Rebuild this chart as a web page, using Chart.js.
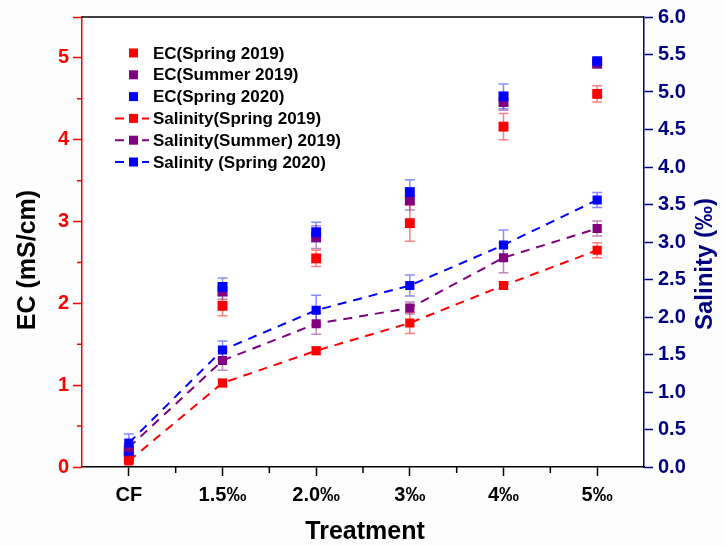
<!DOCTYPE html>
<html>
<head>
<meta charset="utf-8">
<script src="https://cdn.jsdelivr.net/npm/chart.js@4.4.1/dist/chart.umd.min.js"></script>
<style>
html, body { margin: 0; padding: 0; background: #fdfdfd; }
#wrap { width: 724px; height: 546px; }
</style>
</head>
<body>
<div id="wrap"><canvas id="ecChart" width="724" height="546"></canvas></div>
<script>
// values
const treatments = ['CF', '1.5‰', '2.0‰', '3‰', '4‰', '5‰'];

const ecSpring2019 = [0.10, 1.97, 2.55, 2.98, 4.16, 4.56];
const ecSpring2019Err = [0.03, 0.12, 0.10, 0.22, 0.16, 0.10];
const ecSummer2019 = [0.18, 2.15, 2.81, 3.26, 4.46, 4.93];
const ecSummer2019Err = [0.04, 0.10, 0.14, 0.12, 0.10, 0.05];
const ecSpring2020 = [0.20, 2.20, 2.87, 3.36, 4.53, 4.96];
const ecSpring2020Err = [0.05, 0.11, 0.12, 0.15, 0.15, 0.03];

const salSpring2019 = [0.08, 1.12, 1.55, 1.92, 2.42, 2.89];
const salSpring2019Err = [0.03, 0.05, 0.05, 0.14, 0.05, 0.10];
const salSummer2019 = [0.26, 1.42, 1.91, 2.12, 2.79, 3.18];
const salSummer2019Err = [0.05, 0.13, 0.14, 0.08, 0.20, 0.10];
const salSpring2020 = [0.32, 1.56, 2.09, 2.42, 2.96, 3.56];
const salSpring2020Err = [0.12, 0.12, 0.20, 0.14, 0.20, 0.10];

const RED = '#ff0000';
const PURPLE = '#800080';
const BLUE = '#0000ff';
const NAVY = '#000080';
const FONT = '"Liberation Sans", Arial, sans-serif';

function ecSet(label, data, errors, color, errColor, order){
    return {
        label: label,
        data: data,
        errors: errors,
        errorColor: errColor,
        yAxisID: 'y',
        showLine: false,
        pointStyle: 'rect',
        pointRadius: 7,
        pointBorderWidth: 0,
        pointBackgroundColor: color,
        borderColor: color,
        order: order
    };
}

function salSet(label, data, errors, color, errColor, order){
    return {
        label: label,
        data: data,
        errors: errors,
        errorColor: errColor,
        yAxisID: 'y2',
        borderColor: color,
        borderWidth: 2,
        borderDash: [9, 7],
        tension: 0,
        pointStyle: 'rect',
        pointRadius: 6.5,
        pointBorderWidth: 0,
        pointBackgroundColor: color,
        order: order
    };
}

// error bars, drawn under the squares
const errorBars = {
    id: 'errorBars',
    beforeDatasetsDraw(chart){
        const ctx = chart.ctx;
        chart.data.datasets.forEach((ds, i) => {
            const meta = chart.getDatasetMeta(i);
            const yScale = chart.scales[ds.yAxisID];
            ctx.save();
            ctx.strokeStyle = ds.errorColor;
            ctx.lineWidth = 1.5;
            meta.data.forEach((pt, j) => {
                const yTop = yScale.getPixelForValue(ds.data[j] + ds.errors[j]);
                const yBot = yScale.getPixelForValue(ds.data[j] - ds.errors[j]);
                ctx.beginPath();
                ctx.moveTo(pt.x, yTop); ctx.lineTo(pt.x, yBot);
                ctx.moveTo(pt.x - 5, yTop); ctx.lineTo(pt.x + 5, yTop);
                ctx.moveTo(pt.x - 5, yBot); ctx.lineTo(pt.x + 5, yBot);
                ctx.stroke();
            });
            ctx.restore();
        });
    }
};

// top frame line, minor ticks, axis titles and legend
const decorations = {
    id: 'decorations',
    afterDraw(chart){
        const ctx = chart.ctx;
        const area = chart.chartArea;
        const x = chart.scales.x;
        const y = chart.scales.y;

        ctx.save();
        ctx.lineWidth = 1.5;
        ctx.strokeStyle = '#000';
        ctx.beginPath();
        ctx.moveTo(area.left, area.top);
        ctx.lineTo(area.right, area.top);
        ctx.stroke();

        // minor ticks between treatments
        ctx.beginPath();
        for(let i = 0; i < treatments.length - 1; i++){
            const mx = (x.getPixelForValue(i) + x.getPixelForValue(i + 1)) / 2;
            ctx.moveTo(mx, area.bottom);
            ctx.lineTo(mx, area.bottom + 6);
        }
        ctx.stroke();

        // minor ticks on EC axis
        ctx.strokeStyle = RED;
        ctx.beginPath();
        for(let v = 0.5; v < 5; v += 1){
            const py = y.getPixelForValue(v);
            ctx.moveTo(area.left, py);
            ctx.lineTo(area.left - 5, py);
        }
        ctx.stroke();

        // axis titles
        ctx.font = 'bold 25px ' + FONT;
        ctx.textAlign = 'center';
        ctx.textBaseline = 'middle';
        ctx.fillStyle = '#000';
        ctx.fillText('Treatment', 365, 532);

        ctx.save();
        ctx.translate(28, 260);
        ctx.rotate(-Math.PI / 2);
        ctx.fillText('EC (mS/cm)', 0, 0);
        ctx.restore();

        ctx.save();
        ctx.font = 'bold 24px ' + FONT;
        ctx.translate(705, 264);
        ctx.rotate(-Math.PI / 2);
        ctx.fillStyle = NAVY;
        ctx.fillText('Salinity (‰)', 0, 0);
        ctx.restore();

        // legend
        ctx.font = 'bold 17px ' + FONT;
        ctx.textAlign = 'left';
        chart.data.datasets.forEach((ds, i) => {
            const ly = 53 + i * 21.8;
            ctx.fillStyle = ds.pointBackgroundColor;
            ctx.fillRect(129, ly - 4.5, 9, 9);
            if(ds.showLine !== false){
                ctx.strokeStyle = ds.borderColor;
                ctx.lineWidth = 2;
                ctx.beginPath();
                ctx.moveTo(115, ly); ctx.lineTo(124, ly);
                ctx.moveTo(142, ly); ctx.lineTo(149, ly);
                ctx.stroke();
            }
            ctx.fillStyle = '#000';
            ctx.fillText(ds.label, 153, ly + 1);
        });
        ctx.restore();
    }
};

const chartArea = {
    id: 'chartAreaBg',
    beforeDraw(chart){
        const a = chart.chartArea;
        chart.ctx.save();
        chart.ctx.fillStyle = '#ffffff';
        chart.ctx.fillRect(a.left, a.top, a.right - a.left, a.bottom - a.top);
        chart.ctx.restore();
    }
};

const ctx = document.getElementById('ecChart').getContext('2d');

new Chart(ctx, {
    type: 'line',
    data: {
        labels: treatments,
        datasets: [
            ecSet('EC(Spring 2019)', ecSpring2019, ecSpring2019Err, RED, 'rgba(255,60,60,0.65)', 6),
            ecSet('EC(Summer 2019)', ecSummer2019, ecSummer2019Err, PURPLE, 'rgba(140,40,140,0.55)', 5),
            ecSet('EC(Spring 2020)', ecSpring2020, ecSpring2020Err, BLUE, 'rgba(60,60,255,0.6)', 4),
            salSet('Salinity(Spring 2019)', salSpring2019, salSpring2019Err, RED, 'rgba(255,60,60,0.65)', 3),
            salSet('Salinity(Summer) 2019)', salSummer2019, salSummer2019Err, PURPLE, 'rgba(140,40,140,0.55)', 2),
            salSet('Salinity (Spring 2020)', salSpring2020, salSpring2020Err, BLUE, 'rgba(60,60,255,0.6)', 1)
        ]
    },
    options: {
        responsive: false,
        animation: false,
        devicePixelRatio: 1,
        layout: { padding: { top: 14, left: 0, right: 0, bottom: 0 } },
        plugins: {
            legend: { display: false },
            tooltip: { enabled: false }
        },
        scales: {
            x: {
                type: 'category',
                offset: true,
                afterFit(scale){ scale.height = 79; },
                grid: { drawOnChartArea: false, offset: false, tickLength: 9, color: '#000', tickWidth: 1.5 },
                border: { color: '#000', width: 1.5 },
                ticks: { color: '#000', padding: 7, maxRotation: 0, font: { family: FONT, size: 20, weight: 'bold' } }
            },
            y: {
                position: 'left',
                min: 0,
                max: 5.5,
                afterFit(scale){ scale.width = 82; },
                grid: { drawOnChartArea: false, tickLength: 9, color: RED, tickWidth: 1.5 },
                border: { color: RED, width: 1.5 },
                ticks: {
                    stepSize: 1,
                    color: RED,
                    padding: 4,
                    font: { family: FONT, size: 20, weight: 'bold' },
                    callback: v => Number.isInteger(v) ? v : ''
                }
            },
            y2: {
                position: 'right',
                min: 0,
                max: 6,
                afterFit(scale){ scale.width = 80; },
                grid: { drawOnChartArea: false, tickLength: 9, color: NAVY, tickWidth: 1.5 },
                border: { color: NAVY, width: 1.5 },
                ticks: {
                    stepSize: 0.5,
                    color: NAVY,
                    padding: 5,
                    font: { family: FONT, size: 20, weight: 'bold' },
                    callback: v => v.toFixed(1)
                }
            }
        }
    },
    plugins: [chartArea, errorBars, decorations]
});
</script>
</body>
</html>
